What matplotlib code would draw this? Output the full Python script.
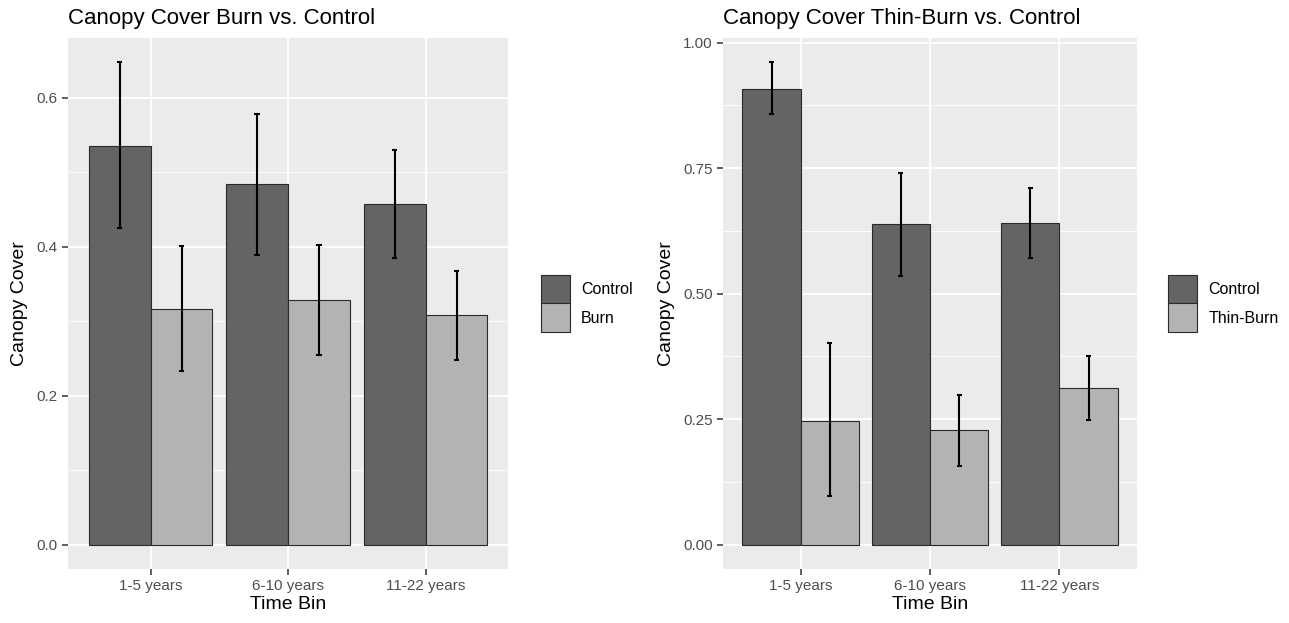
import matplotlib
matplotlib.use('Agg')
import matplotlib.pyplot as plt
from matplotlib.patches import Patch
from matplotlib.ticker import MultipleLocator
import numpy as np

plt.rcParams['font.family'] = ['Liberation Sans', 'DejaVu Sans']

bins = ['1-5 years', '6-10 years', '11-22 years']

# Burn vs. Control
burn_ctrl = [0.536, 0.484, 0.458]
burn_ctrl_lo = [0.425, 0.389, 0.385]
burn_ctrl_hi = [0.648, 0.578, 0.530]
burn = [0.317, 0.329, 0.308]
burn_lo = [0.233, 0.255, 0.248]
burn_hi = [0.401, 0.402, 0.367]

# Thin-Burn vs. Control
thin_ctrl = [0.908, 0.638, 0.640]
thin_ctrl_lo = [0.858, 0.536, 0.572]
thin_ctrl_hi = [0.961, 0.740, 0.711]
thin = [0.247, 0.228, 0.312]
thin_lo = [0.097, 0.156, 0.248]
thin_hi = [0.401, 0.299, 0.375]

CTRL_COL = '#646464'
TRT_COL = '#b3b3b3'
BG = '#ebebeb'


def panel(ax, title, ctrl, clo, chi, trt, tlo, thi, yticks, fmt, trt_name):
    x = np.arange(1, len(bins) + 1)
    w = 0.45
    ax.set_facecolor(BG)
    ax.bar(x - w / 2, ctrl, w, color=CTRL_COL, edgecolor='#2a2a2a', lw=0.8, zorder=3)
    ax.bar(x + w / 2, trt, w, color=TRT_COL, edgecolor='#2a2a2a', lw=0.8, zorder=3)
    for xs, lo, hi in [(x - w / 2, clo, chi), (x + w / 2, tlo, thi)]:
        ax.vlines(xs, lo, hi, color='black', lw=1.5, zorder=4)
        ax.hlines(lo, xs - 0.02, xs + 0.02, color='black', lw=1.5, zorder=4)
        ax.hlines(hi, xs - 0.02, xs + 0.02, color='black', lw=1.5, zorder=4)

    top = max(max(chi), max(thi))
    pad = top * 0.05
    ax.set_ylim(-pad, top + pad)
    ax.set_xlim(0.4, 3.6)
    ax.set_xticks(x)
    ax.set_xticklabels(bins)
    ax.set_yticks(yticks)
    ax.set_yticklabels([fmt.format(v) for v in yticks])
    step = yticks[1] - yticks[0]
    ax.yaxis.set_minor_locator(MultipleLocator(step / 2))
    ax.grid(which='major', color='white', lw=1.3, zorder=0)
    ax.grid(which='minor', axis='y', color='white', lw=0.6, zorder=0)
    ax.set_axisbelow(True)
    for s in ax.spines.values():
        s.set_visible(False)
    ax.tick_params(axis='both', which='major', colors='#333333', labelcolor='#4d4d4d',
                   labelsize=11, length=4, width=1.1)
    ax.tick_params(axis='both', which='minor', length=0)
    ax.set_xlabel('Time Bin', fontsize=14, labelpad=2)
    ax.set_ylabel('Canopy Cover', fontsize=14, labelpad=6)
    ax.set_title(title, fontsize=16, loc='left', pad=10)

    handles = [Patch(facecolor=CTRL_COL, edgecolor='#2a2a2a', lw=0.8),
               Patch(facecolor=TRT_COL, edgecolor='#2a2a2a', lw=0.8)]
    ax.legend(handles, ['Control', trt_name], loc='center left',
              bbox_to_anchor=(1.06, 0.5), frameon=False, fontsize=11.5,
              handlelength=1.8, handleheight=2.4, labelspacing=0.0,
              handletextpad=0.7, borderaxespad=0)


fig = plt.figure(figsize=(12.89, 6.23), dpi=100)
ax1 = fig.add_axes([0.0528, 0.0867, 0.3414, 0.8523])
ax2 = fig.add_axes([0.5609, 0.0867, 0.3212, 0.8523])

panel(ax1, 'Canopy Cover Burn vs. Control', burn_ctrl, burn_ctrl_lo, burn_ctrl_hi,
      burn, burn_lo, burn_hi, [0.0, 0.2, 0.4, 0.6], '{:.1f}', 'Burn')
panel(ax2, 'Canopy Cover Thin-Burn vs. Control', thin_ctrl, thin_ctrl_lo, thin_ctrl_hi,
      thin, thin_lo, thin_hi, [0.0, 0.25, 0.5, 0.75, 1.0], '{:.2f}', 'Thin-Burn')

fig.savefig('out.png', dpi=100)
